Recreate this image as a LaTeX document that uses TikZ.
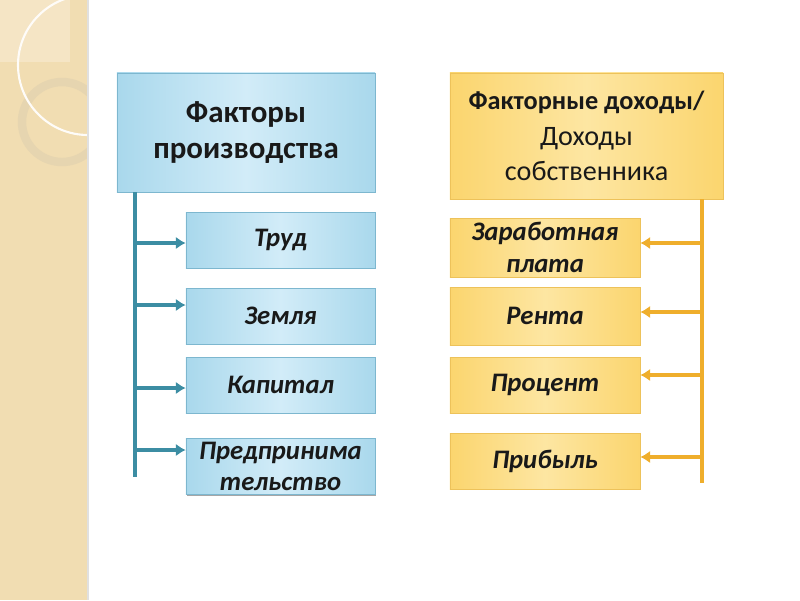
\documentclass[tikz,border=0pt]{standalone}
\usepackage{fontspec}
\setmainfont{Carlito}
\usepackage{xcolor}
\usetikzlibrary{shadows,arrows.meta}

\definecolor{stripbeige}{HTML}{F1DDB2}
\definecolor{ringbeige}{HTML}{E6D5B0}
\definecolor{blueouter}{HTML}{A9D8EC}
\definecolor{blueinner}{HTML}{D2ECF8}
\definecolor{blueedge}{HTML}{7DB7CF}
\definecolor{yellowouter}{HTML}{FBD56E}
\definecolor{yellowinner}{HTML}{FDE6A2}
\definecolor{yellowedge}{HTML}{EDC25A}
\definecolor{tealline}{HTML}{3C8DA3}
\definecolor{orangeline}{HTML}{EFAE2C}

\begin{document}
\begin{tikzpicture}[x=0.025cm, y=-0.025cm,
        boxshadow/.style={drop shadow={shadow xshift=0.8pt, shadow yshift=-1pt, opacity=0.35, fill=black}},
        bluebox/.style={boxshadow, draw=blueedge, left color=blueouter, right color=blueouter, middle color=blueinner, align=center, inner sep=0pt, text=black!90},
        yellowbox/.style={boxshadow, draw=yellowedge, left color=yellowouter, right color=yellowouter, middle color=yellowinner, align=center, inner sep=0pt, text=black!90},
        smallbox/.style={minimum height=1.4cm, font=\fontsize{19}{22.5}\selectfont\bfseries\itshape},
        bluearrow/.style={draw=tealline, line width=2.6pt, -{Latex[length=7pt, width=9pt]}},
        yellowarrow/.style={draw=orangeline, line width=2.6pt, -{Latex[length=7pt, width=9pt]}}]
        \useasboundingbox (0,0) rectangle (800,600);
        % left strip
        \fill[stripbeige] (0,0) rectangle (88,600);
        \fill[stripbeige!75!white] (0,0) rectangle (70,62);
        \begin{scope}
            \clip (0,0) rectangle (88,600);
            \draw[ringbeige, line width=6pt] (62,122) circle [radius=40];
            \draw[white!92!stripbeige, line width=1.5pt] (88,65) circle [radius=70];
        \end{scope}
        \draw[black!12, line width=1pt] (88,0) -- (88,600);

        % factors of production
        \node[bluebox, minimum width=6.45cm, minimum height=2.975cm, font=\fontsize{22}{26}\selectfont\bfseries] (prod) at (246,132.5) {Факторы\\производства};
        \node[bluebox, smallbox, minimum width=4.725cm] (trud) at (280.5,240) {Труд};
        \node[bluebox, smallbox, minimum width=4.725cm] (zemlya) at (280.5,316) {Земля};
        \node[bluebox, smallbox, minimum width=4.725cm] (kapital) at (280.5,385) {Капитал};
        \node[bluebox, smallbox, minimum width=4.725cm] (predpr) at (280.5,466.5) {Предпринима\\тельство};

        \coordinate (lb) at (135,477);
        \draw[tealline, line width=2.6pt] (lb |- prod.south) -- (lb);
        \coordinate (l1) at (135,243);
        \coordinate (l2) at (135,305);
        \coordinate (l3) at (135,388);
        \coordinate (l4) at (135,450);
        \draw[bluearrow] (l1) -- (l1 -| trud.west);
        \draw[bluearrow] (l2) -- (l2 -| zemlya.west);
        \draw[bluearrow] (l3) -- (l3 -| kapital.west);
        \draw[bluearrow] (l4) -- (l4 -| predpr.west);

        % factor incomes
        \node[yellowbox, minimum width=6.825cm, minimum height=3.15cm, font=\fontsize{20}{25}\selectfont] (income) at (586.5,136) {{\fontsize{18.7}{25}\selectfont\bfseries Факторные доходы/}\\Доходы\\собственника};
        \node[yellowbox, smallbox, minimum width=4.75cm, minimum height=1.475cm] (zarplata) at (545,247.5) {Заработная\\плата};
        \node[yellowbox, smallbox, minimum width=4.75cm, minimum height=1.45cm] (renta) at (545,316) {Рента};
        \node[yellowbox, smallbox, minimum width=4.75cm] (procent) at (545,385) {Процент};
        \node[yellowbox, smallbox, minimum width=4.75cm] (pribyl) at (545,461) {Прибыль};

        \coordinate (rb) at (702,483);
        \draw[orangeline, line width=2.6pt] (rb |- income.south) -- (rb);
        \coordinate (r1) at (702,243);
        \coordinate (r2) at (702,312);
        \coordinate (r3) at (702,375);
        \coordinate (r4) at (702,457);
        \draw[yellowarrow] (r1) -- (r1 -| zarplata.east);
        \draw[yellowarrow] (r2) -- (r2 -| renta.east);
        \draw[yellowarrow] (r3) -- (r3 -| procent.east);
        \draw[yellowarrow] (r4) -- (r4 -| pribyl.east);
\end{tikzpicture}
\end{document}
